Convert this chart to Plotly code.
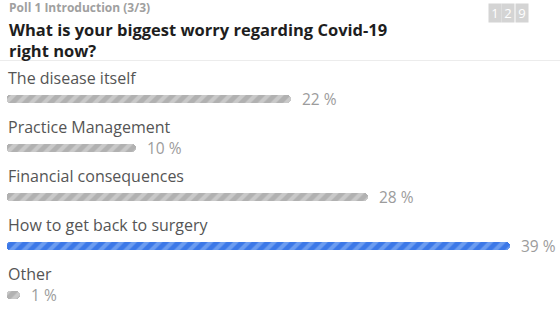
import plotly.graph_objects as go

# ---- data ----
categories = ["The disease itself", "Practice Management", "Financial consequences",
              "How to get back to surgery", "Other"]
percents = [22, 10, 28, 39, 1]
highlight = [False, False, False, True, False]
badge_digits = ["1", "2", "9"]
poll_label = "Poll 1 Introduction (3/3)"
question = "What is your biggest worry regarding Covid-19<br>right now?"

W, H = 560, 311
ML = 7
plot_w = W - ML
XMAX = 42.9                       # data range of the x axis
PX_PER_ROW = 49.0
TOP0 = 98.5                       # pixel centre of first row
y_top = -TOP0 / PX_PER_ROW
y_bot = y_top + H / PX_PER_ROW
CAP = 0.34                        # where the body starts (data units, ~4.4px)
CAP_LEN = 0.55                    # length of the rounded left cap (overlaps the body)

FONT = "Open Sans"
ypos = list(range(len(categories)))
BAR_W = 8 / PX_PER_ROW

styles = {
    False: ("#b1b1b1", "#c9c9c9"),
    True: ("#3c78e7", "#6b9cf0"),
}

fig = go.Figure()
for flag, (bg, fg) in styles.items():
    ys = [y for y, h in zip(ypos, highlight) if h == flag]
    ps = [p for p, h in zip(percents, highlight) if h == flag]
    if not ys:
        continue
    marker = dict(color=bg, cornerradius="50%", line=dict(width=0),
                  pattern=dict(shape="/", fillmode="replace", bgcolor=bg, fgcolor=fg,
                               size=9, solidity=0.45))
    # main body (rounded at the right end)
    fig.add_trace(go.Bar(x=[p - CAP for p in ps], base=[CAP] * len(ps), y=ys,
                         orientation="h", width=BAR_W, marker=marker, hoverinfo="skip"))
    # left rounded cap (drawn from inside the body back to 0)
    fig.add_trace(go.Bar(x=[-min(CAP_LEN, p) for p in ps], base=[min(CAP_LEN, p) for p in ps],
                         y=ys, orientation="h", width=BAR_W, marker=marker, hoverinfo="skip"))


def px_x(px):
    return (px - ML) / plot_w


def px_y(py):
    return 1 - py / H


annotations = []
for i, (c, p) in enumerate(zip(categories, percents)):
    annotations.append(dict(x=0, y=i, yshift=21, text=c, xref="x", yref="y",
                            xanchor="left", yanchor="middle", showarrow=False,
                            xshift=-1,
                            font=dict(family=FONT, size=16, color="#555555")))
    annotations.append(dict(x=p, y=i, text=f"{p} %", xref="x", yref="y",
                            xanchor="left", yanchor="middle", showarrow=False,
                            xshift=9,
                            font=dict(family=FONT, size=15.5, color="#9c9c9c")))

# header
annotations.append(dict(x=px_x(7), y=px_y(8), xref="paper", yref="paper",
                        text=f"<b>{poll_label}</b>", showarrow=False, xanchor="left",
                        yanchor="middle", font=dict(family=FONT, size=12, color="#a0a0a0")))
annotations.append(dict(x=px_x(7), y=px_y(15.5), xref="paper", yref="paper",
                        text=f"<b>{question}</b>", showarrow=False, xanchor="left",
                        align="left", yanchor="top",
                        font=dict(family=FONT, size=16.5, color="#1e1e1e")))

# badge
for j, d in enumerate(badge_digits):
    cx = 494.5 + j * 13.5
    annotations.append(dict(x=px_x(cx), y=px_y(13), xref="paper", yref="paper",
                            text=d, showarrow=False, xanchor="center", yanchor="middle",
                            width=12, height=18, bgcolor="#d4d4d4", borderpad=0,
                            font=dict(family=FONT, size=13, color="#ffffff")))

shapes = [dict(type="line", xref="paper", yref="paper",
               x0=px_x(0), x1=1, y0=px_y(60.5), y1=px_y(60.5),
               line=dict(color="#ececec", width=1))]

fig.update_layout(
    width=W, height=H,
    margin=dict(l=ML, r=0, t=0, b=0),
    paper_bgcolor="white", plot_bgcolor="white",
    showlegend=False,
    barmode="overlay",
    xaxis=dict(range=[0, XMAX], visible=False, fixedrange=True),
    yaxis=dict(range=[y_bot, y_top], visible=False, fixedrange=True),
    annotations=annotations,
    shapes=shapes,
    bargap=0,
)

fig.write_html("out.html", config={"displayModeBar": False},
               post_script="document.body.style.margin='0';document.body.style.overflow='hidden';")
